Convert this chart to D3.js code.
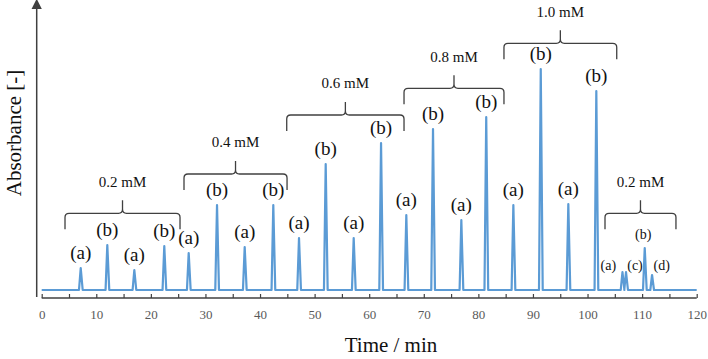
<!DOCTYPE html>
<html>
<head>
<meta charset="utf-8">
<script src="https://cdn.jsdelivr.net/npm/d3@7"></script>
<style>
  body { margin: 0; background: #fff; }
  svg text { font-family: "Liberation Serif", "Times New Roman", serif; }
</style>
</head>
<body>
<svg id="chart" width="708" height="359"></svg>
<script>
// peak retention times (min) and heights (a.u.)
const peakTimes   = [7.15, 12.02, 16.97, 22.46, 26.93, 32.12, 37.19, 42.43, 47.14, 52.03,
                     57.16, 62.17, 66.80, 71.69, 76.88, 81.44, 86.41, 91.43, 96.48, 101.61,
                     106.4, 107.05, 110.48, 111.82];
const peakHeights = [0.022, 0.045, 0.020, 0.044, 0.037, 0.085, 0.043, 0.085, 0.052, 0.126,
                     0.052, 0.147, 0.075, 0.161, 0.070, 0.173, 0.085, 0.221, 0.086, 0.199,
                     0.018, 0.018, 0.042, 0.015];
// labels over the first 20 peaks
const peakLetters = ['(a)', '(b)', '(a)', '(b)', '(a)', '(b)', '(a)', '(b)', '(a)', '(b)',
                     '(a)', '(b)', '(a)', '(b)', '(a)', '(b)', '(a)', '(b)', '(a)', '(b)'];
// small labels of the last injection
const smallText   = ['(a)', '(c)', '(b)', '(d)'];
const smallTimes  = [103.8, 108.7, 110.2, 113.6];
const smallLevels = [0.0233, 0.0233, 0.0543, 0.0233];

// concentration brackets
const concLabels = ['0.2 mM', '0.4 mM', '0.6 mM', '0.8 mM', '1.0 mM', '0.2 mM'];
const concStart  = [4.27, 26.07, 44.89, 66.38, 84.69, 103.2];
const concEnd    = [25.34, 44.95, 66.38, 84.69, 105.35, 116.2];
const concLevel  = [0.0767, 0.116, 0.175, 0.2017, 0.2467, 0.0767];

const xTicks = d3.range(0, 121, 5);

const serif = '"Liberation Serif", "Times New Roman", serif';
const svg = d3.select('#chart');

const xScale = d3.scaleLinear().domain([0, 120]).range([41.7, 696.7]);
const yScale = d3.scaleLinear().domain([0, 0.29]).range([290, 0]);

// build trace from peaks
const trace = [[0, 0]];
peakTimes.forEach((t, i) => {
    trace.push([t - 0.32, 0]);
    trace.push([t, peakHeights[i]]);
    trace.push([t + 0.36, 0]);
});
trace.push([120, 0]);

const line = d3.line()
    .x(d => xScale(d[0]))
    .y(d => yScale(d[1]));

svg.append('path')
    .datum(trace)
    .attr('d', line)
    .style('fill', 'none')
    .style('stroke', '#5b9bd5')
    .style('stroke-width', 2.2)
    .style('stroke-linejoin', 'round');

// x axis
const xAxis = svg.append('g')
    .attr('transform', 'translate(0, 298)')
    .call(d3.axisBottom(xScale)
        .tickValues(xTicks)
        .tickSize(-4)
        .tickPadding(12)
        .tickFormat(d => d % 10 === 0 ? d : ''));

xAxis.attr('font-family', serif);
xAxis.select('.domain')
    .attr('d', `M${xScale(0)},0H${xScale(120)}`)
    .style('stroke', '#404040')
    .style('stroke-width', 1.5);
xAxis.selectAll('.tick line').style('stroke', '#404040').style('stroke-width', 1.2);
xAxis.selectAll('.tick text')
    .style('font-family', serif)
    .style('font-size', '13px')
    .style('fill', '#595959');

// y axis with arrow
svg.append('defs').append('marker')
    .attr('id', 'arrow')
    .attr('viewBox', '0 0 10 10')
    .attr('refX', 5).attr('refY', 5)
    .attr('markerWidth', 7).attr('markerHeight', 7)
    .attr('orient', 'auto')
    .append('path')
    .attr('d', 'M0,0L10,5L0,10z')
    .style('fill', '#404040');

svg.append('line')
    .attr('x1', 36.7).attr('y1', 297)
    .attr('x2', 36.7).attr('y2', 4)
    .style('stroke', '#404040')
    .style('stroke-width', 1.5)
    .attr('marker-end', 'url(#arrow)');

// axis titles
svg.append('text')
    .attr('x', 391)
    .attr('y', 352)
    .attr('text-anchor', 'middle')
    .style('font-family', serif)
    .style('font-size', '21px')
    .style('fill', '#111')
    .text('Time / min');

svg.append('text')
    .attr('transform', 'translate(21, 133) rotate(-90)')
    .attr('text-anchor', 'middle')
    .style('font-family', serif)
    .style('font-size', '21px')
    .style('fill', '#111')
    .text('Absorbance [-]');

// peak labels
svg.selectAll('.peakLabel')
    .data(peakLetters)
    .join('text')
    .classed('peakLabel', true)
    .attr('x', (d, i) => xScale(peakTimes[i]))
    .attr('y', (d, i) => yScale(peakHeights[i]) - 13)
    .attr('text-anchor', 'middle')
    .attr('dominant-baseline', 'middle')
    .style('font-family', serif)
    .style('font-size', '19px')
    .style('fill', '#111')
    .text(d => d);

svg.selectAll('.smallLabel')
    .data(smallText)
    .join('text')
    .classed('smallLabel', true)
    .attr('x', (d, i) => xScale(smallTimes[i]))
    .attr('y', (d, i) => yScale(smallLevels[i]))
    .attr('text-anchor', 'middle')
    .attr('dominant-baseline', 'middle')
    .style('font-family', serif)
    .style('font-size', '14px')
    .style('fill', '#111')
    .text(d => d);

// brackets
function bracketPath(x1, x2, y) {
    const r = 4, arm = 16, stem = 13;
    const xm = (x1 + x2) / 2;
    return `M${x1},${y + arm}V${y + r}Q${x1},${y} ${x1 + r},${y}` +
        `H${xm - r}Q${xm},${y} ${xm},${y - r}V${y - stem}` +
        `M${xm},${y - r}Q${xm},${y} ${xm + r},${y}` +
        `H${x2 - r}Q${x2},${y} ${x2},${y + r}V${y + arm}`;
}

concLabels.forEach((label, i) => {
    const x1 = xScale(concStart[i]);
    const x2 = xScale(concEnd[i]);
    const y = yScale(concLevel[i]);

    svg.append('path')
        .attr('d', bracketPath(x1, x2, y))
        .style('fill', 'none')
        .style('stroke', '#404040')
        .style('stroke-width', 1.3);

    svg.append('text')
        .attr('x', (x1 + x2) / 2)
        .attr('y', y - 30)
        .attr('text-anchor', 'middle')
        .attr('dominant-baseline', 'middle')
        .style('font-family', serif)
        .style('font-size', '15px')
        .style('fill', '#111')
        .text(label);
});
</script>
</body>
</html>
